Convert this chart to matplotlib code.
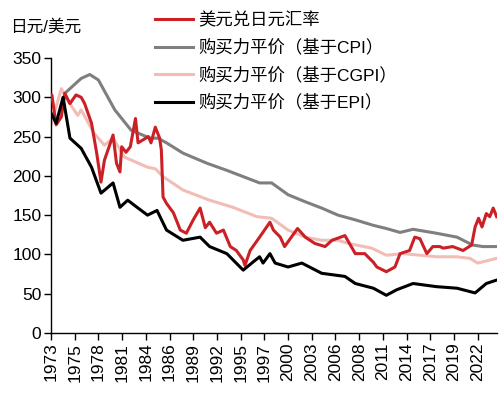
import matplotlib
matplotlib.use("Agg")
import matplotlib.pyplot as plt

plt.rcParams['font.family'] = ['Liberation Sans', 'Noto Sans CJK SC', 'DejaVu Sans']

# USD/JPY exchange rate (year fraction, value)
fx_t = [1973.0, 1973.1, 1973.4, 1973.6, 1974.2, 1974.6, 1975.2, 1975.9, 1976.5, 1976.9,
        1977.7, 1978.3, 1978.8, 1979.2, 1979.8, 1980.2, 1980.6, 1981.0, 1981.2, 1981.7,
        1982.2, 1982.8, 1983.1, 1983.7, 1984.3, 1984.6, 1985.1, 1985.6, 1985.8, 1986.0,
        1986.4, 1987.2, 1988.0, 1988.7, 1989.5, 1990.3, 1990.9, 1991.4, 1992.2, 1993.0,
        1993.8, 1994.5, 1995.3, 1995.5, 1996.1, 1997.2, 1998.4, 1998.8, 1999.6, 2000.1,
        2001.6, 2002.5, 2003.6, 2004.8, 2005.6, 2007.1, 2008.3, 2009.4, 2010.4, 2010.8,
        2011.9, 2012.9, 2013.5, 2014.6, 2015.2, 2015.8, 2016.6, 2017.3, 2018.1, 2018.5,
        2019.6, 2020.8, 2021.8, 2022.2, 2022.6, 2023.0, 2023.5, 2023.9, 2024.3, 2024.7]
fx_v = [301, 303, 280, 265, 275, 305, 292, 303, 300, 292,
        267, 229, 192, 220, 239, 252, 216, 205, 237, 230,
        237, 273, 242, 246, 250, 242, 262, 248, 233, 173,
        165, 153, 131, 127, 144, 159, 134, 141, 127, 131,
        110, 105, 93, 86, 105, 122, 141, 131, 122, 110,
        133, 122, 114, 110, 118, 124, 101, 101, 90, 84,
        78, 84, 101, 105, 122, 120, 101, 110, 110, 108,
        110, 105, 112, 135, 146, 135, 152, 148, 159, 148]

# PPP based on CPI
cpi_t = [1974.6, 1975.0, 1976.5, 1977.5, 1978.5, 1980.4, 1982.3, 1984.5, 1985.4, 1986.4,
         1988.3, 1991.1, 1993.4, 1995.3, 1997.2, 1998.6, 2000.5, 2002.5, 2004.4, 2006.3,
         2008.3, 2010.4, 2011.9, 2013.5, 2015.0, 2017.7, 2020.1, 2021.9, 2023.1, 2024.7]
cpi_v = [305, 309, 324, 329, 322, 284, 258, 248, 248, 242,
         229, 216, 207, 199, 191, 191, 176, 167, 159, 150,
         144, 137, 133, 128, 132, 127, 122, 112, 110, 110]

# PPP based on CGPI
cgpi_t = [1973.0, 1974.2, 1975.0, 1976.1, 1976.5, 1978.0, 1979.2, 1980.2, 1981.5, 1984.2,
          1985.1, 1986.0, 1988.3, 1991.4, 1994.1, 1996.9, 1998.6, 2000.5, 2002.5, 2004.4,
          2006.3, 2007.5, 2010.2, 2011.9, 2013.8, 2015.8, 2017.7, 2020.1, 2021.6, 2022.5,
          2024.7]
cgpi_v = [265, 311, 295, 277, 284, 254, 239, 248, 224, 211,
          209, 199, 182, 169, 160, 148, 146, 131, 122, 118,
          118, 114, 108, 99, 101, 99, 97, 97, 95, 89,
          95]

# PPP based on EPI
epi_t = [1973.0, 1973.6, 1974.4, 1975.2, 1976.5, 1977.7, 1978.8, 1980.2, 1981.0, 1981.9,
         1983.1, 1984.2, 1985.3, 1986.4, 1988.3, 1990.3, 1991.4, 1993.4, 1995.3, 1996.4,
         1997.2, 1997.6, 1998.4, 1999.0, 2000.5, 2002.1, 2004.4, 2007.1, 2008.3, 2010.4,
         2011.9, 2013.1, 2015.0, 2017.7, 2020.1, 2022.2, 2023.5, 2024.6]
epi_v = [280, 267, 300, 248, 235, 211, 178, 191, 160, 169,
         159, 150, 156, 131, 118, 122, 110, 101, 80, 90,
         97, 89, 101, 89, 84, 89, 76, 72, 63, 57,
         48, 55, 63, 59, 57, 51, 63, 67]

labels = ['美元兑日元汇率', '购买力平价（基于CPI）', '购买力平价（基于CGPI）', '购买力平价（基于EPI）']
tick_years = [1973 + 2.75 * k for k in range(19)]
tick_labels = [str(int(y)) for y in tick_years]
y_ticks = [0, 50, 100, 150, 200, 250, 300, 350]

fig = plt.figure(figsize=(5.04, 3.96), dpi=100)
ax = fig.add_axes([51/504, 1-333/396, (497-51)/504, (333-58)/396])

lw = 2.2
ax.plot(fx_t, fx_v, color='#CC2027', lw=lw, label=labels[0], zorder=4)
ax.plot(cpi_t, cpi_v, color='#7F7F7F', lw=lw, label=labels[1], zorder=3)
ax.plot(cgpi_t, cgpi_v, color='#F2BDB6', lw=lw, label=labels[2], zorder=2)
ax.plot(epi_t, epi_v, color='#000000', lw=lw, label=labels[3], zorder=5)

ax.set_xlim(1973, 1973 + (497-51)/8.62)
ax.set_ylim(0, 350)
ax.set_yticks(y_ticks)
ax.set_xticks(tick_years)
ax.set_xticklabels(tick_labels, rotation=90)
for s in ['top', 'right']:
    ax.spines[s].set_visible(False)
for s in ['left', 'bottom']:
    ax.spines[s].set_linewidth(1.0)
ax.tick_params(axis='both', direction='out', length=5, width=1, labelsize=12.5, pad=2)

fig.text(10/504, 1-27/396, '日元/美元', fontsize=12, va='center', ha='left')

handles, labs = ax.get_legend_handles_labels()
fig.legend(handles, labs, loc='upper left', bbox_to_anchor=(155/504, 1-12/396),
           frameon=False, fontsize=12.5, handlelength=2.2, handletextpad=0.3,
           labelspacing=0.62, borderpad=0, borderaxespad=0)

fig.savefig('out.png', dpi=100)
